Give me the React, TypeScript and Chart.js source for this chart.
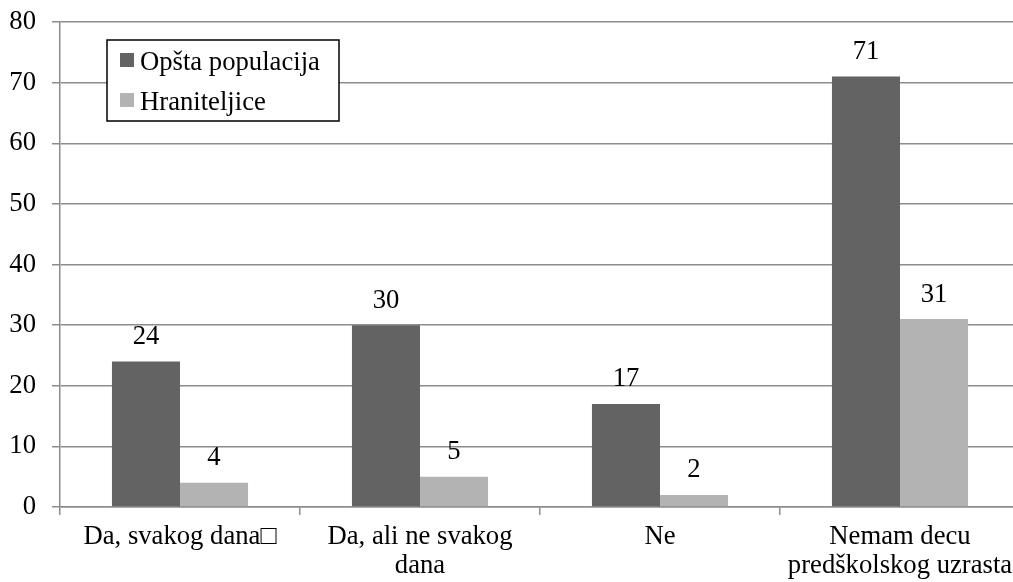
import React, { useEffect, useRef } from "react";
import { Chart, registerables } from "chart.js";

Chart.register(...registerables);

const categories: (string | string[])[] = [
  "Da, svakog dana\u25A1",
  ["Da, ali ne svakog", "dana"],
  "Ne",
  ["Nemam decu", "predškolskog uzrasta"],
];
const seriesNames = ["Opšta populacija", "Hraniteljice"];
const opstaPopulacija = [24, 30, 17, 71];
const hraniteljice = [4, 5, 2, 31];
const yTicks = [0, 10, 20, 30, 40, 50, 60, 70, 80];

const FONT_FAMILY = "'Liberation Serif', 'Times New Roman', serif";
const FONT_SIZE = 26.67;
const GRID = "#8c8c8c";
const COLORS = ["#636363", "#b3b3b3"];

const valueLabels = {
  id: "valueLabels",
  afterDatasetsDraw(chart: any) {
    const ctx = chart.ctx;
    ctx.save();
    ctx.font = `${FONT_SIZE}px ${FONT_FAMILY}`;
    ctx.fillStyle = "#000";
    ctx.textAlign = "center";
    ctx.textBaseline = "alphabetic";
    chart.data.datasets.forEach((ds: any, i: number) => {
      const meta = chart.getDatasetMeta(i);
      meta.data.forEach((el: any, j: number) => {
        ctx.fillText(String(ds.data[j]), el.x, el.y - 17.5);
      });
    });
    ctx.restore();
  },
};

const boxedLegend = {
  id: "boxedLegend",
  afterDraw(chart: any) {
    const ctx = chart.ctx;
    const area = chart.chartArea;
    const left = area.left + 47;
    const top = area.top + 18;
    const w = 232;
    const h = 81;
    ctx.save();
    ctx.fillStyle = "#fff";
    ctx.fillRect(left, top, w, h);
    ctx.strokeStyle = "#000";
    ctx.lineWidth = 1.5;
    ctx.strokeRect(left, top, w, h);
    ctx.font = `${FONT_SIZE}px ${FONT_FAMILY}`;
    ctx.textAlign = "left";
    ctx.textBaseline = "alphabetic";
    chart.data.datasets.forEach((ds: any, i: number) => {
      const rowCenter = top + 20 + i * 40;
      ctx.fillStyle = ds.backgroundColor;
      ctx.fillRect(left + 13, rowCenter - 7, 14, 14);
      ctx.fillStyle = "#000";
      ctx.fillText(ds.label, left + 33, rowCenter + 10);
    });
    ctx.restore();
  },
};

export default function App() {
  const canvasRef = useRef<HTMLCanvasElement | null>(null);

  useEffect(() => {
    if (!canvasRef.current) return;
    const chart = new Chart(canvasRef.current, {
      type: "bar",
      data: {
        labels: categories,
        datasets: [
          {
            label: seriesNames[0],
            data: opstaPopulacija,
            backgroundColor: COLORS[0],
            borderWidth: 0,
          },
          {
            label: seriesNames[1],
            data: hraniteljice,
            backgroundColor: COLORS[1],
            borderWidth: 0,
          },
        ],
      },
      options: {
        responsive: false,
        animation: false,
        layout: { padding: { top: 22, left: 0, right: 0, bottom: 0 } },
        datasets: {
          bar: { categoryPercentage: 0.567, barPercentage: 1.0 },
        },
        plugins: {
          legend: { display: false },
          tooltip: { enabled: false },
        },
        scales: {
          x: {
            offset: true,
            grid: {
              offset: true,
              drawOnChartArea: false,
              drawTicks: true,
              tickLength: 8,
              color: GRID,
              lineWidth: 1.5,
            },
            border: { display: true, color: GRID, width: 1.5 },
            ticks: {
              color: "#000",
              padding: 7,
              maxRotation: 0,
              autoSkip: false,
              font: { family: FONT_FAMILY, size: FONT_SIZE, lineHeight: 1.1 },
            },
            afterFit(scale: any) {
              scale.height = 75;
              scale.paddingLeft = 0;
              scale.paddingRight = 0;
            },
          },
          y: {
            min: 0,
            max: 80,
            afterBuildTicks(scale: any) {
              scale.ticks = yTicks.map((v) => ({ value: v }));
            },
            grid: {
              color: GRID,
              lineWidth: 1.5,
              tickLength: 8,
              drawTicks: true,
            },
            border: { display: true, color: GRID, width: 1.5 },
            ticks: {
              color: "#000",
              padding: 16,
              font: { family: FONT_FAMILY, size: FONT_SIZE },
            },
            afterFit(scale: any) {
              scale.width = 60;
              scale.paddingTop = 0;
              scale.paddingBottom = 0;
            },
          },
        },
      },
      plugins: [valueLabels, boxedLegend],
    });
    return () => chart.destroy();
  }, []);

  return (
    <div
      style={{
        position: "fixed",
        left: 0,
        top: 0,
        width: 1013,
        height: 582,
        overflow: "hidden",
        background: "#fff",
      }}
    >
      <canvas
        ref={canvasRef}
        width={1020}
        height={582}
        style={{ display: "block", width: 1020, height: 582 }}
      />
    </div>
  );
}
